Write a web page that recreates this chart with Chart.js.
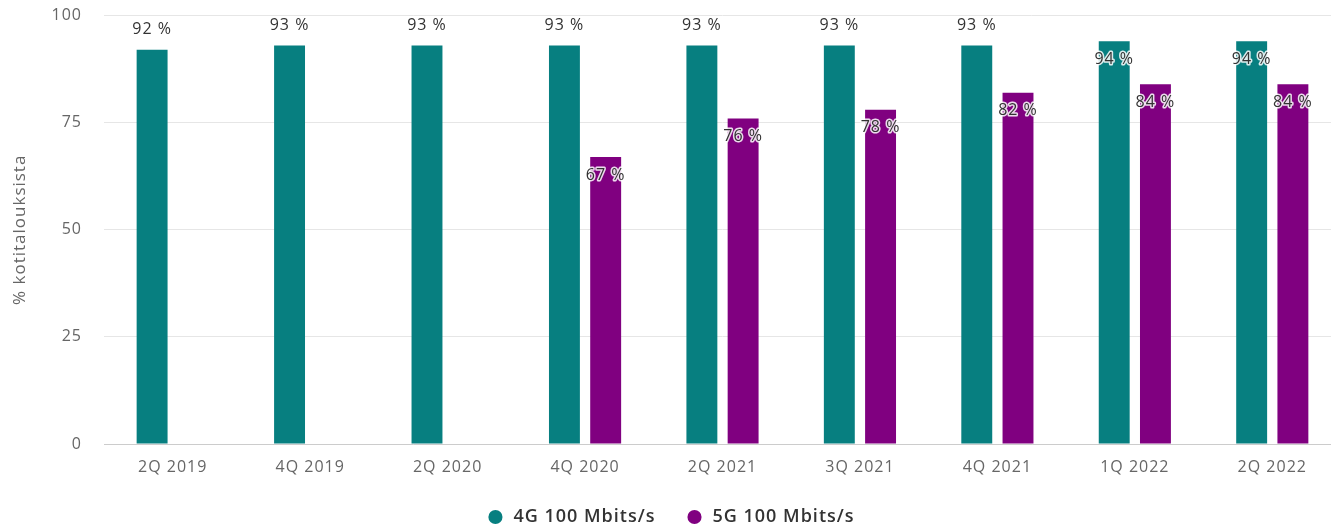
<!DOCTYPE html>
<html lang="fi">
<head>
<meta charset="utf-8">
<title>Kotitaloudet 100 Mbit/s</title>
<script src="https://cdn.jsdelivr.net/npm/chart.js@4"></script>
<style>
    html, body { margin: 0; padding: 0; background: #fff; overflow: hidden; }
    #wrap { width: 1341px; height: 530px; position: relative; }
</style>
</head>
<body>
<div id="wrap"><canvas id="kaavio"></canvas></div>
<script>
// --- Data luettu kuvasta ---
const kvartaalit = ['2Q 2019', '4Q 2019', '2Q 2020', '4Q 2020', '2Q 2021', '3Q 2021', '4Q 2021', '1Q 2022', '2Q 2022'];
const arvot4G    = [92, 93, 93, 93, 93, 93, 93, 94, 94];
const arvot5G    = [null, null, null, 67, 76, 78, 82, 84, 84];
const yTikit     = [0, 25, 50, 75, 100];

const sarjat = ['4G 100 Mbits/s', '5G 100 Mbits/s'];
const varit  = ['#077f80', '#800080'];

const fontti = '"Open Sans", "Noto Sans", sans-serif';

// Kirjainväli koko kaavioon (canvasin tila nollautuu koon muuttuessa, siksi kahdessa kohdassa)
const kirjainvali = {
    id: 'kirjainvali',
    beforeLayout(chart) { chart.ctx.letterSpacing = '1px'; },
    beforeDraw(chart)   { chart.ctx.letterSpacing = '1px'; }
};

// Arvolaput pylväiden päälle (ei datalabels-lisäosaa, piirretään itse)
const arvoLaput = {
    id: 'arvoLaput',
    afterDatasetsDraw(chart) {
        const ctx = chart.ctx;
        const area = chart.chartArea;
        ctx.save();
        ctx.font = '16px ' + fontti;
        ctx.textAlign = 'center';
        ctx.textBaseline = 'middle';
        ctx.lineJoin = 'round';
        chart.data.datasets.forEach((ds, i) => {
            const meta = chart.getDatasetMeta(i);
            meta.data.forEach((bar, j) => {
                const v = ds.data[j];
                if (v === null || v === undefined) return;
                const teksti = v + ' %';
                let y = bar.y - 20;
                // jos lappu ei mahdu yläpuolelle (tai 5G), siirretään pylvään sisään
                if (ds.sisalla || y - 6 < area.top) y = bar.y + 18;
                ctx.lineWidth = 3;
                ctx.strokeStyle = 'rgba(255,255,255,0.85)';
                ctx.strokeText(teksti, bar.x, y);
                ctx.fillStyle = '#333';
                ctx.fillText(teksti, bar.x, y);
            });
        });
        ctx.restore();
    }
};

new Chart(document.getElementById('kaavio'), {
    type: 'bar',
    data: {
        labels: kvartaalit,
        datasets: [
            { label: sarjat[0], data: arvot4G, backgroundColor: varit[0], sisalla: false },
            { label: sarjat[1], data: arvot5G, backgroundColor: varit[1], sisalla: true }
        ]
    },
    options: {
        responsive: true,
        maintainAspectRatio: false,
        animation: false,
        categoryPercentage: 0.6,
        barPercentage: 0.75,
        layout: { padding: { top: 0, right: 0, left: 0, bottom: -6 } },
        plugins: {
            legend: {
                position: 'bottom',
                labels: {
                    usePointStyle: true,
                    pointStyle: 'circle',
                    boxWidth: 18,
                    boxHeight: 10,
                    padding: 30,
                    color: '#333',
                    font: { family: fontti, size: 18, weight: '600' }
                }
            },
            tooltip: { enabled: false }
        },
        scales: {
            x: {
                grid: { display: false, drawTicks: false },
                border: { display: true, color: '#ccc' },
                ticks: { color: '#666', padding: 14, font: { family: fontti, size: 16 } },
                afterFit(scale) { scale.height = 34; }
            },
            y: {
                min: 0,
                max: 100,
                afterBuildTicks(scale) { scale.ticks = yTikit.map(v => ({ value: v })); },
                grid: { color: '#e6e6e6', drawTicks: true, tickLength: 16, tickColor: 'rgba(0,0,0,0)' },
                border: { display: false },
                ticks: { color: '#666', padding: 6, font: { family: fontti, size: 16 } },
                title: {
                    display: true,
                    text: '% kotitalouksista',
                    color: '#666',
                    padding: { top: 10, bottom: 0 },
                    font: { family: fontti, size: 17 }
                },
                afterFit(scale) { scale.width = 104; }
            }
        }
    },
    plugins: [kirjainvali, arvoLaput]
});
</script>
</body>
</html>
